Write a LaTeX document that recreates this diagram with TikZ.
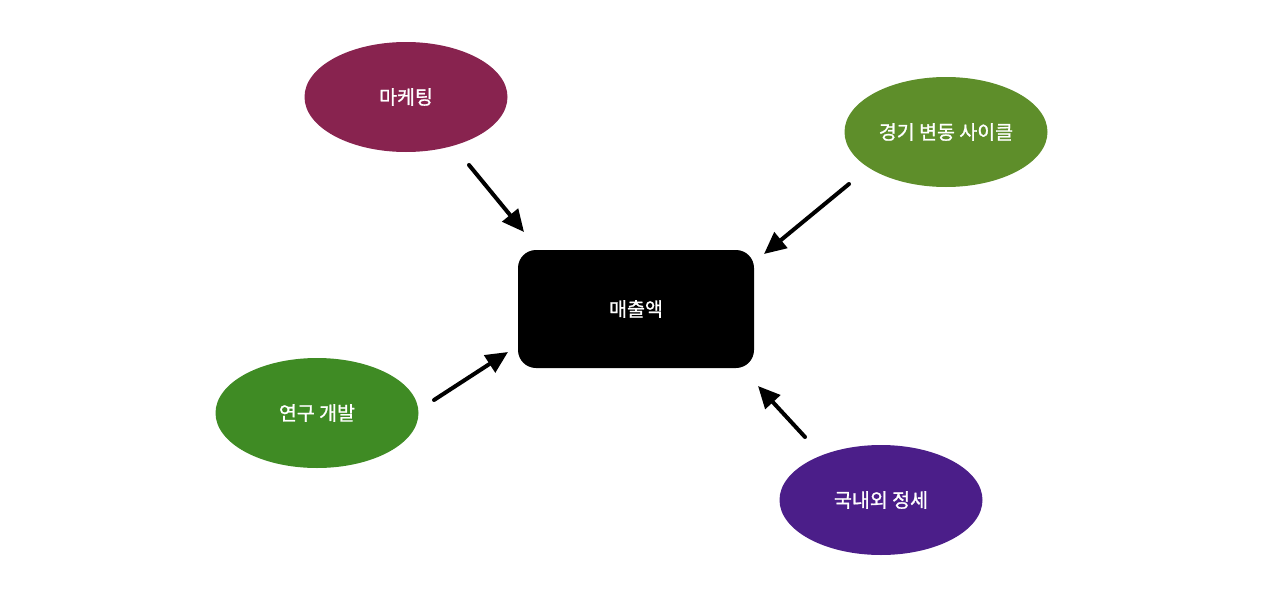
\documentclass[tikz,border=0pt]{standalone}
\usepackage{fontspec}
\newfontfamily\kofont[BoldFont={Noto Sans CJK KR},
	BoldFeatures={FakeBold=1.2}]{Noto Sans CJK KR}
\usepackage{tikz}
\usetikzlibrary{shapes.geometric}
\usetikzlibrary{arrows.meta}

\definecolor{mkred}{HTML}{88234F}
\definecolor{cyclegreen}{HTML}{5E8E2A}
\definecolor{rdgreen}{HTML}{3F8B24}
\definecolor{worldpurple}{HTML}{4B1E89}

\begin{document}
\begin{tikzpicture}[
				x=1pt,
				y=-1pt,
				line cap=round,
				line join=round,
				factor/.style={ellipse, minimum width=203pt, minimum height=110pt,
					inner sep=0pt, text=white, font=\kofont\bfseries\fontsize{19.5}{22}\selectfont},
				sales/.style={rectangle, rounded corners=18pt, fill=black,
					minimum width=236pt, minimum height=118pt,
					text=white, font=\kofont\bfseries\fontsize{19.5}{22}\selectfont},
				push/.style={line width=4pt,
					-{Triangle[length=22pt,width=20pt]}}
				]
				% frame
				\useasboundingbox (0,0) rectangle (1280,597);
				
				% center
				\node[sales] (sales) at (636,309) {매출액};
				
				% factors
				\node[factor, fill=mkred] (mkt) at (406,97) {마케팅};
				\node[factor, fill=cyclegreen] (cycle) at (946,132) {경기 변동 사이클};
				\node[factor, fill=rdgreen] (rnd) at (317,413) {연구 개발};
				\node[factor, fill=worldpurple] (world) at (881,500) {국내외 정세};
				
				% arrow ends
				\coordinate (mktA) at (469,165);
				\coordinate (mktB) at (524,232);
				\coordinate (cycleA) at (849,184);
				\coordinate (cycleB) at (764,254);
				\coordinate (rndA) at (434,400);
				\coordinate (rndB) at (508,352);
				\coordinate (worldA) at (805,437);
				\coordinate (worldB) at (758,386);
				
				\draw[push] (mktA) -- (mktB);
				\draw[push] (cycleA) -- (cycleB);
				\draw[push] (rndA) -- (rndB);
				\draw[push] (worldA) -- (worldB);
			\end{tikzpicture}
\end{document}
